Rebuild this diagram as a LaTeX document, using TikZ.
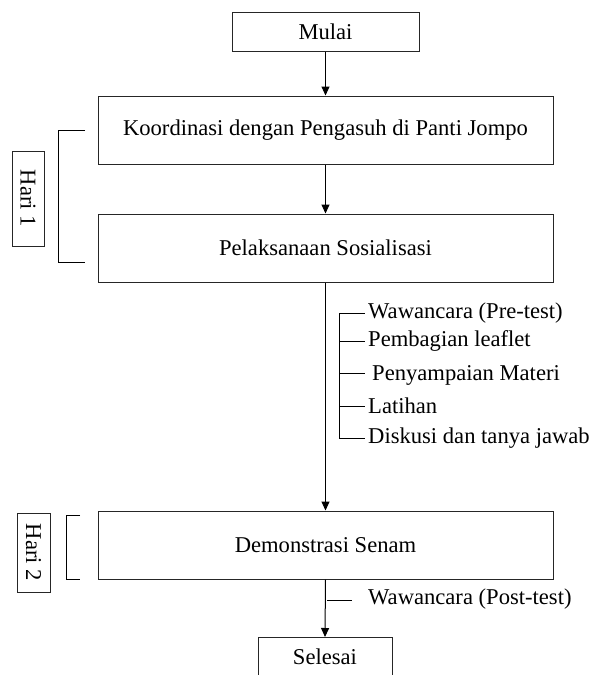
\documentclass[tikz,border=0pt]{standalone}
\usepackage{fontspec}
\setmainfont{Liberation Serif}
\usetikzlibrary{arrows.meta}
\begin{document}
\begin{tikzpicture}[x=1pt,y=-1pt,
  box/.style={draw=black!85, line width=1pt, inner sep=0pt, font=\fontsize{22.6}{26}\selectfont},
  lbl/.style={inner sep=0pt, anchor=west, font=\fontsize{22.6}{26}\selectfont},
  arr/.style={line width=1pt, -{Triangle[length=9pt,width=8pt]}},
  ln/.style={line width=1pt}]
\useasboundingbox (0,0) rectangle (592,675);
\begin{scope}
\clip (0,0) rectangle (592,675);
% main boxes
\node[box, minimum width=187pt, minimum height=39pt] (mulai) at (325.5,31.5) {Mulai};
\node[box, minimum width=455pt, minimum height=68pt] (koor) at (325.5,130) {Koordinasi dengan Pengasuh di Panti Jompo};
\node[box, minimum width=455pt, minimum height=68pt] (pel) at (325.5,248) {Pelaksanaan Sosialisasi};
\node[box, minimum width=455pt, minimum height=68pt] (demo) at (325.5,545) {Demonstrasi Senam};
\draw[draw=black!85, line width=1pt] (258,637) rectangle (392,700);
\node[lbl, anchor=center] (selesai) at (325,657) {Selesai};
\coordinate (seltop) at (325,637);
% arrows
\draw[arr] (mulai.south) -- (koor.north);
\draw[arr] (koor.south) -- (pel.north);
\draw[arr] (pel.south) -- (demo.north);
\draw[arr] (demo.south) -- (seltop);
% sub items
\coordinate (st) at (339,313);
\coordinate (sb) at (339,438);
\draw[ln] (st) -- (sb);
\node[lbl] (w1) at (368,313) {Wawancara (Pre-test)};
\node[lbl] (w2) at (368,341) {Pembagian leaflet};
\node[lbl] (w3) at (372,375) {Penyampaian Materi};
\node[lbl] (w4) at (368,406) {Latihan};
\node[lbl] (w5) at (368,438) {Diskusi dan tanya jawab};
\draw[ln] (339,313) -- (365,313);
\draw[ln] (339,341) -- (365,341);
\draw[ln] (339,373) -- (365,373);
\draw[ln] (339,406) -- (365,406);
\draw[ln] (339,438) -- (365,438);
% post-test
\node[lbl] (post) at (368,599) {Wawancara (Post-test)};
\coordinate (pt) at (327,600);
\draw[ln] (pt) -- (352,600);
% Hari brackets
\node[box, rotate=-90, minimum width=95pt, minimum height=32pt] (h1) at (28,198.5) {Hari 1};
\draw[ln] (85,130) -- (58,130) -- (58,262) -- (85,262);
\node[box, rotate=-90, minimum width=79pt, minimum height=33pt] (h2) at (33.5,552.5) {Hari 2};
\draw[ln] (80,515) -- (66,515) -- (66,579) -- (80,579);
\end{scope}
\end{tikzpicture}
\end{document}
